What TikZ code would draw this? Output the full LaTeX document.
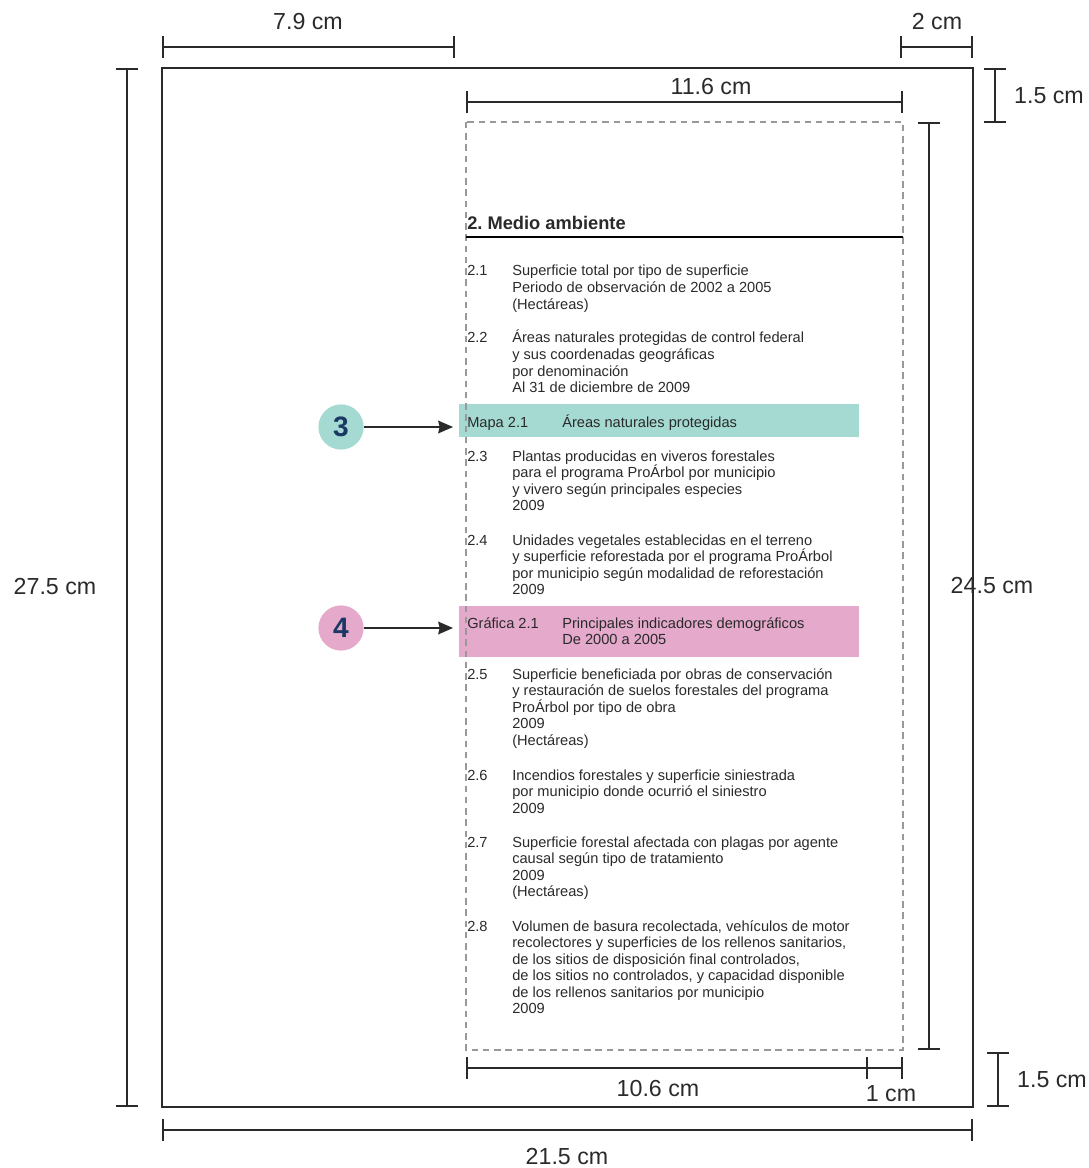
\documentclass[tikz,border=0pt]{standalone}
\usepackage{fontspec}
\setmainfont{Liberation Sans}
\usetikzlibrary{arrows.meta,positioning}
\frenchspacing
\definecolor{mapcol}{HTML}{A5DAD3}
\definecolor{grafcol}{HTML}{E4A9CB}
\definecolor{numcol}{HTML}{1B3764}
\definecolor{txtcol}{HTML}{2A2A2A}
\newcommand\rowstack[1]{\vtop{\let\\\cr\halign{##\hfil\cr#1\crcr}}}
\tikzset{
  dim/.style = {line width=1.2pt, draw=txtcol, {Bar[width=15pt]}-{Bar[width=15pt]}},
  dimlabel/.style = {inner sep=0pt, text=txtcol, font=\fontsize{16.5}{19}\selectfont},
  entry/.style = {anchor=base west, inner sep=0pt, text=txtcol, font=\fontsize{10.4}{11.8}\selectfont},
  band/.style = {anchor=north west, inner sep=0pt, minimum width=10cm},
  badge/.style = {circle, inner sep=0pt, minimum size=1.13cm, text=numcol, font=\fontsize{20}{20}\selectfont\bfseries},
  pointer/.style = {line width=1.2pt, draw=txtcol, shorten >=0.15cm, -{Stealth[length=10.5pt,width=9pt,inset=1pt]}}
}

\begin{document}
\begin{tikzpicture}[x = .025cm, y = -.025cm]
\useasboundingbox (0,0) rectangle (1089,1168);

% page and text block
\coordinate (pgtl) at (162,68);
\coordinate (pgbr) at (973,1107);
\coordinate (txtl) at (466,122);
\coordinate (txbr) at (903,1050);
\draw[line width=1.6pt, draw=txtcol] (pgtl) rectangle (pgbr);

% coloured bands
\node[band, fill=mapcol, minimum height=0.83cm] (mapa) at (459,404) {};
\node[band, fill=grafcol, minimum height=1.26cm] (grafica) at (459,606) {};
\draw[gray!80, line width=0.8pt, dash pattern=on 4.5pt off 3.5pt] (txtl) rectangle (txbr);

% dimensions
\draw[dim] (162,47) coordinate (d79a) -- (455,47) coordinate (d79b);
\node[dimlabel] (l79) at (308,22) {7.9 cm};
\draw[dim] (900,47) coordinate (d2a) -- (d2a -| pgbr) coordinate (d2b);
\node[dimlabel] (l2) at (937,22) {2 cm};
\draw[dim] (txtl |- 0,102) coordinate (d116a) -- (txbr |- 0,102) coordinate (d116b);
\node[dimlabel] (l116) at (711,87) {11.6 cm};
\draw[dim] (995,68) coordinate (d15a) -- (995,123) coordinate (d15b);
\node[dimlabel] (l15a) at (1049,96) {1.5 cm};
\draw[dim] (929,122) coordinate (d245a) -- (929,1050) coordinate (d245b);
\node[dimlabel] (l245) at (992,586) {24.5 cm};
\draw[dim] (127,68) coordinate (d275a) -- (127,1107) coordinate (d275b);
\node[dimlabel] (l275) at (55,587) {27.5 cm};
\draw[dim] (998,1052) coordinate (d15c) -- (998,1107) coordinate (d15d);
\node[dimlabel] (l15b) at (1052,1080) {1.5 cm};
\draw[dim] (466,1068) coordinate (d106a) -- (868,1068) coordinate (d106b);
\node[dimlabel] (l106) at (658,1089) {10.6 cm};
\draw[dim, -{Bar[width=15pt]}] (d106b) -- (903,1068) coordinate (d1b);
\node[dimlabel] (l1) at (891,1094) {1 cm};
\draw[dim] (162,1130) coordinate (d215a) -- (973,1130) coordinate (d215b);
\node[dimlabel] (l215) at (567,1156) {21.5 cm};

% heading
\node[entry, font=\fontsize{13}{15}\selectfont\bfseries] (titulo) at (467,230) {2. Medio ambiente};
\draw[line width=1pt] (txtl |- 0,237) -- (txbr |- 0,237);

% list of entries
\node[entry] (n21) at (467,276) {2.1};
\node[entry] (t21) at (512,276) {\rowstack{Superficie total por tipo de superficie\\Periodo de observación de 2002 a 2005\\(Hectáreas)}};
\node[entry] (n22) at (467,343) {2.2};
\node[entry] (t22) at (512,343) {\rowstack{Áreas naturales protegidas de control federal\\y sus coordenadas geográficas\\por denominación\\Al 31 de diciembre de 2009}};
\node[entry] (nm21) at (467,427) {Mapa 2.1};
\node[entry] (tm21) at (562,427) {Áreas naturales protegidas};
\node[entry] (n23) at (467,461) {2.3};
\node[entry] (t23) at (512,461) {\rowstack{Plantas producidas en viveros forestales\\para el programa ProÁrbol por municipio\\y vivero según principales especies\\2009}};
\node[entry] (n24) at (467,545) {2.4};
\node[entry] (t24) at (512,545) {\rowstack{Unidades vegetales establecidas en el terreno\\y superficie reforestada por el programa ProÁrbol\\por municipio según modalidad de reforestación\\2009}};
\node[entry] (ng21) at (467,628) {Gráfica 2.1};
\node[entry] (tg21) at (562,628) {\rowstack{Principales indicadores demográficos\\De 2000 a 2005}};
\node[entry] (n25) at (467,679) {2.5};
\node[entry] (t25) at (512,679) {\rowstack{Superficie beneficiada por obras de conservación\\y restauración de suelos forestales del programa\\ProÁrbol por tipo de obra\\2009\\(Hectáreas)}};
\node[entry] (n26) at (467,780) {2.6};
\node[entry] (t26) at (512,780) {\rowstack{Incendios forestales y superficie siniestrada\\por municipio donde ocurrió el siniestro\\2009}};
\node[entry] (n27) at (467,847) {2.7};
\node[entry] (t27) at (512,847) {\rowstack{Superficie forestal afectada con plagas por agente\\causal según tipo de tratamiento\\2009\\(Hectáreas)}};
\node[entry] (n28) at (467,931) {2.8};
\node[entry] (t28) at (512,931) {\rowstack{Volumen de basura recolectada, vehículos de motor\\recolectores y superficies de los rellenos sanitarios,\\de los sitios de disposición final controlados,\\de los sitios no controlados, y capacidad disponible\\de los rellenos sanitarios por municipio\\2009}};

% callouts
\node[badge, fill=mapcol] (c3) at (341,427) {3};
\draw[pointer] (c3) -- (c3 -| mapa.west);
\node[badge, fill=grafcol] (c4) at (341,628) {4};
\draw[pointer] (c4) -- (c4 -| grafica.west);
\end{tikzpicture}
\end{document}
